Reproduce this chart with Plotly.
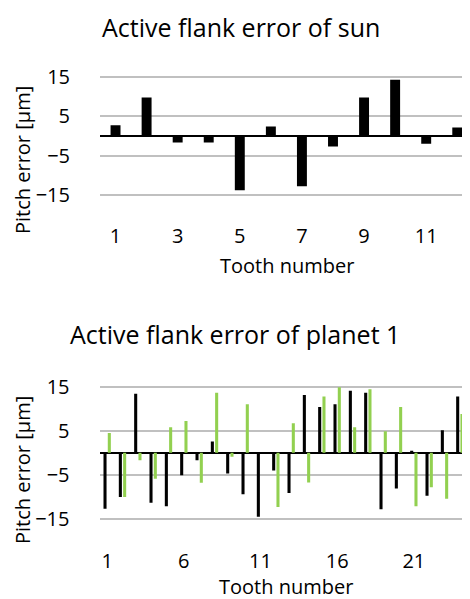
import plotly.graph_objects as go

# The page shows the figure 8 px in from the top-left corner, so the figure is
# made 8 px smaller than the window and reference pixel positions are shifted.
OFF = 8
W, H = 470 - OFF, 599 - OFF

sun_teeth = list(range(1, 13))
sun_error = [2.7, 9.7, -1.7, -1.7, -13.8, 2.4, -12.8, -2.7, 9.7, 14.2, -2.0, 2.1]

planet_teeth = list(range(1, 25))
planet_black = [-12.7, -10.0, 13.4, -11.3, -12.1, -5.1, -1.7, 2.6, -4.7, -9.4, -14.5, -4.0,
                -9.1, 13.1, 10.4, 11.0, 14.1, 13.6, -12.8, -8.1, 0.5, -9.7, 5.1, 12.8]
planet_green = [4.5, -10.0, -1.7, -5.9, 5.8, 7.2, -6.8, 13.6, -0.9, 11.0, 0.0, -12.3,
                6.7, -6.7, 12.8, 14.9, 5.8, 14.4, 4.9, 10.4, -12.1, -7.8, -10.4, 8.8]

sun_ticks = [1, 3, 5, 7, 9, 11]
planet_ticks = [1, 6, 11, 16, 21]
Y_TICK0, Y_DTICK = -15, 10

FONT = "Open Sans"
BLACK = "#000000"
GREEN = "#92d050"
GRID = "#c0c0c0"

def py(p):
    return 1 - (p - OFF) / H

def px(p):
    return min(1.0, (p - OFF) / W)

TOP_T, TOP_B = 76.7, 195.0
BOT_T, BOT_B = 386.7, 519.0
PAD = 1.5  # range padding (data units) so the edge gridlines are drawn

def ydomain(t, b):
    s = (b - t) / 30.0
    return [py(b + PAD * s), py(t - PAD * s)]

fig = go.Figure()
fig.add_trace(go.Bar(x=sun_teeth, y=sun_error, width=0.32, marker=dict(color=BLACK, line=dict(width=0)),
                     xaxis="x", yaxis="y", showlegend=False))
fig.add_trace(go.Bar(x=planet_teeth, y=planet_black, width=0.2, offset=-0.24,
                     marker=dict(color=BLACK, line=dict(width=0)),
                     xaxis="x2", yaxis="y2", showlegend=False))
fig.add_trace(go.Bar(x=planet_teeth, y=planet_green, width=0.2, offset=0.04,
                     marker=dict(color=GREEN, line=dict(width=0)),
                     xaxis="x2", yaxis="y2", showlegend=False))

tickfont = dict(family=FONT, size=20, color="#000000")
yax = dict(range=[-15 - PAD, 15 + PAD], tickmode="linear", tick0=Y_TICK0, dtick=Y_DTICK,
           showgrid=True, gridcolor=GRID, gridwidth=1.5,
           zeroline=True, zerolinecolor=BLACK, zerolinewidth=2, showline=False, automargin=False,
           ticks="outside", ticklen=25, tickcolor="rgba(0,0,0,0)", tickfont=tickfont, fixedrange=True)
xax = dict(showgrid=False, zeroline=False, showline=False, ticks="outside", ticklen=17, automargin=False,
           tickcolor="rgba(0,0,0,0)", tickfont=tickfont, fixedrange=True)

title_font = dict(family=FONT, size=25, color="#000000")
label_font = dict(family=FONT, size=20, color="#000000")

fig.update_layout(
    template="none",
    width=W, height=H,
    margin=dict(l=0, r=0, t=0, b=0, pad=0),
    paper_bgcolor="white", plot_bgcolor="white",
    xaxis=dict(xax, domain=[px(100), 1], range=[0.5, 12.41], tickvals=sun_ticks, anchor="y"),
    yaxis=dict(yax, domain=ydomain(TOP_T, TOP_B), anchor="x"),
    xaxis2=dict(xax, domain=[px(99.5), px(467.5)], range=[0.5, 24.5], tickvals=planet_ticks, anchor="y2"),
    yaxis2=dict(yax, domain=ydomain(BOT_T, BOT_B), anchor="x2"),
    annotations=[
        dict(text="Active flank error of sun", x=px(241), y=1, xref="paper", yref="paper",
             showarrow=False, xanchor="center", yanchor="top", font=title_font),
        dict(text="Active flank error of planet 1", x=px(235), y=py(334), xref="paper", yref="paper",
             showarrow=False, xanchor="center", yanchor="middle", font=title_font),
        dict(text="Tooth number", x=px(287), y=py(265), xref="paper", yref="paper",
             showarrow=False, xanchor="center", yanchor="middle", font=label_font),
        dict(text="Tooth number", x=px(286), y=py(586), xref="paper", yref="paper",
             showarrow=False, xanchor="center", yanchor="middle", font=label_font),
        dict(text="Pitch error [μm]", x=px(22), y=py(160), xref="paper", yref="paper", textangle=-90,
             showarrow=False, xanchor="center", yanchor="middle", font=label_font),
        dict(text="Pitch error [μm]", x=px(22), y=py(470), xref="paper", yref="paper", textangle=-90,
             showarrow=False, xanchor="center", yanchor="middle", font=label_font),
    ],
)

fig.write_html("out.html")
